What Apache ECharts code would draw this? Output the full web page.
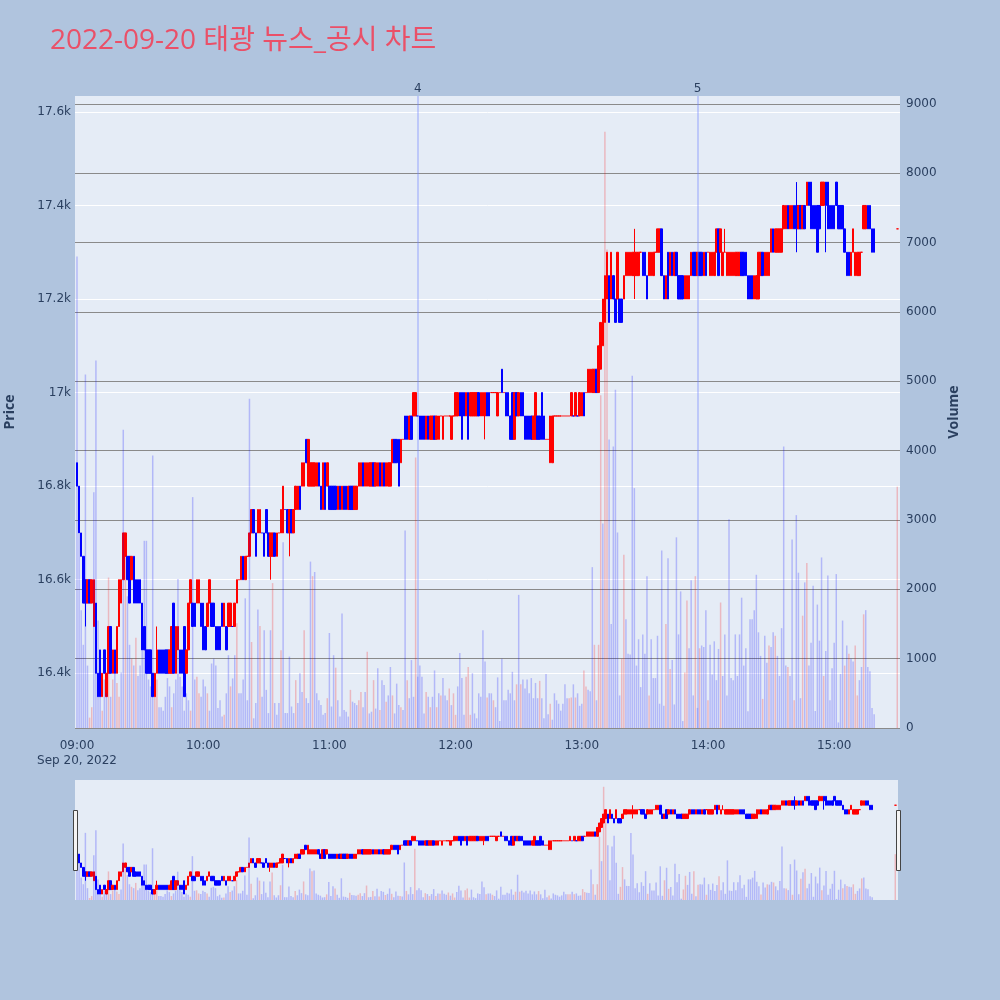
<!DOCTYPE html>
<html>
<head>
<meta charset="utf-8">
<title>태광 뉴스_공시 차트</title>
<script src="https://cdn.jsdelivr.net/npm/echarts@6.0.0/dist/echarts.min.js"></script>
<style>
    html, body { margin: 0; padding: 0; background: #b0c4de; }
    #chart { width: 1000px; height: 1000px; }
</style>
</head>
<body>
<div id="chart"></div>
<script>
const chartTitle = '2022-09-20 태광 뉴스_공시 차트';
const dateLabel = 'Sep 20, 2022';

// one candle per minute from firstBar to lastBar, then the 15:30 closing auction
const firstBar = '09:00';
const lastBar = '15:19';
const closeAuction = '15:30';

const opens = [
    16850,16800,16700,16650,16600,16550,16600,16550,16500,16550,
    16400,16450,16350,16450,16350,16400,16500,16400,16450,16400,
    16500,16550,16600,16650,16650,16650,16600,16650,16600,16600,
    16600,16550,16500,16450,16450,16450,16400,16350,16400,16450,
    16450,16450,16450,16450,16400,16400,16550,16400,16450,16450,
    16450,16500,16400,16450,16550,16550,16550,16550,16550,16550,
    16550,16500,16500,16550,16550,16550,16500,16500,16500,16550,
    16500,16500,16500,16500,16500,16500,16550,16600,16600,16650,
    16600,16650,16650,16700,16750,16700,16700,16700,16700,16700,
    16750,16700,16650,16650,16700,16650,16700,16700,16700,16750,
    16750,16700,16750,16700,16750,16750,16800,16800,16800,16900,
    16800,16800,16800,16800,16800,16850,16800,16750,16850,16800,
    16800,16800,16800,16800,16750,16800,16750,16800,16800,16750,
    16800,16800,16750,16750,16800,16800,16850,16800,16800,16800,
    16800,16850,16800,16800,16850,16800,16850,16800,16800,16800,
    16850,16900,16900,16900,16850,16900,16950,16950,16900,16950,
    16950,16950,16950,16950,16950,16950,16900,16950,16900,16900,
    16950,16900,16900,16950,16900,16950,16950,16950,16900,16950,
    16950,16950,17000,17000,17000,16950,17000,16950,16950,16950,
    16950,17000,16950,16950,16950,17000,17000,17000,17000,17000,
    16950,17000,17050,17000,17000,17000,16950,17000,16900,17000,
    16950,17000,17000,16950,16950,16950,16950,16900,16900,16950,
    16950,17000,16950,16900,16900,16850,16850,16950,16950,16950,
    16950,16950,16950,16950,16950,16950,16950,16950,16950,16950,
    16950,17000,17000,17000,17000,17000,17000,17050,17000,17050,
    17100,17150,17200,17250,17200,17250,17200,17200,17200,17200,
    17200,17250,17250,17250,17250,17250,17250,17250,17300,17300,
    17300,17250,17250,17250,17250,17300,17300,17300,17350,17250,
    17200,17300,17250,17300,17250,17300,17250,17250,17250,17200,
    17200,17200,17250,17300,17300,17250,17300,17300,17250,17300,
    17300,17250,17250,17250,17300,17350,17300,17250,17300,17250,
    17250,17250,17250,17250,17250,17250,17300,17300,17300,17250,
    17250,17250,17200,17200,17200,17250,17300,17250,17250,17250,
    17300,17350,17300,17300,17300,17300,17350,17350,17400,17350,
    17350,17400,17400,17350,17400,17350,17400,17400,17450,17450,
    17400,17400,17400,17400,17400,17400,17450,17450,17400,17400,
    17400,17450,17400,17400,17400,17350,17300,17300,17250,17300,
    17250,17250,17250,17300,17350,17350,17400,17400,17350,17350,
    17350
];
const closes = [
    16800,16700,16650,16550,16550,16600,16550,16600,16600,16400,
    16350,16350,16400,16400,16400,16500,16400,16450,16400,16500,
    16600,16600,16700,16700,16600,16550,16650,16550,16550,16550,
    16550,16450,16450,16400,16400,16400,16350,16400,16450,16400,
    16400,16400,16400,16400,16450,16500,16400,16500,16500,16400,
    16400,16350,16450,16550,16600,16500,16500,16600,16600,16500,
    16450,16450,16550,16600,16500,16500,16450,16450,16450,16500,
    16550,16450,16550,16550,16500,16550,16600,16600,16650,16600,
    16650,16650,16700,16750,16700,16650,16750,16750,16700,16650,
    16700,16650,16700,16700,16650,16700,16700,16750,16800,16750,
    16700,16750,16700,16750,16800,16800,16750,16850,16850,16850,
    16900,16850,16850,16850,16850,16800,16750,16850,16750,16850,
    16750,16750,16750,16750,16800,16750,16800,16750,16750,16800,
    16750,16750,16800,16800,16850,16850,16800,16850,16850,16850,
    16850,16800,16850,16850,16800,16850,16800,16850,16850,16850,
    16900,16850,16850,16800,16900,16900,16900,16900,16950,16900,
    17000,17000,16950,16900,16900,16900,16950,16900,16950,16950,
    16900,16950,16950,16950,16950,16950,16950,16950,16950,16950,
    17000,17000,16950,16900,16950,17000,16900,17000,17000,17000,
    17000,16950,17000,17000,17000,16950,16950,17000,17000,17000,
    17000,17000,17000,17000,16950,16950,16900,16900,17000,16950,
    17000,16950,16950,16900,16900,16900,16900,16950,17000,16900,
    16900,16900,16900,16900,16900,16950,16950,16950,16950,16950,
    16950,16950,16950,16950,16950,17000,16950,17000,16950,17000,
    17000,16950,17000,17050,17050,17050,17050,17000,17100,17150,
    17200,17250,17300,17150,17300,17200,17150,17300,17150,17150,
    17250,17300,17300,17300,17300,17300,17300,17300,17300,17250,
    17250,17200,17300,17300,17300,17300,17350,17350,17250,17200,
    17250,17200,17300,17250,17300,17250,17200,17200,17200,17250,
    17250,17250,17300,17250,17250,17300,17250,17250,17300,17250,
    17300,17300,17300,17300,17350,17250,17350,17300,17300,17300,
    17300,17300,17300,17300,17300,17300,17250,17250,17250,17200,
    17200,17200,17250,17250,17300,17300,17250,17300,17300,17300,
    17350,17300,17350,17350,17350,17350,17400,17400,17350,17400,
    17400,17350,17350,17400,17350,17400,17350,17450,17400,17350,
    17350,17350,17300,17350,17450,17450,17400,17350,17350,17350,
    17350,17400,17350,17350,17350,17300,17250,17250,17300,17350,
    17300,17300,17300,17300,17400,17400,17350,17350,17300,17300,
    17350
];
// [minute index, low, high] where a wick sticks out of the body
const wicks = [
    [4, 16500, 16600], [38, 16400, 16500], [92, 16600, 16700], [101, 16650, 16750],
    [194, 16900, 17000], [265, 17200, 17350], [308, 17300, 17350],
    [342, 17300, 17450], [356, 17300, 17450]
];
const volumes = [
    6800,2800,1700,1200,5100,900,150,300,3400,5300,
    1550,1100,250,700,500,2170,450,700,1100,650,
    450,800,4300,2800,1900,1200,1000,900,1300,750,
    900,1200,2700,2700,700,600,3930,500,700,300,
    300,250,450,720,600,300,500,700,2150,740,
    600,250,500,400,250,3330,700,740,500,450,
    700,600,500,250,930,1000,900,290,400,165,
    190,500,1050,600,715,1050,1510,500,500,700,
    1870,400,4750,1240,140,360,1710,1470,450,1410,
    550,215,1410,2090,360,190,360,1120,2680,215,
    215,1030,310,215,690,360,790,520,1410,430,
    360,2400,2190,2250,500,400,330,190,215,430,
    1370,310,1050,870,400,165,1650,260,235,165,
    550,380,360,330,400,520,300,520,1100,210,
    235,690,280,860,260,690,620,380,470,880,
    470,210,640,330,300,260,2850,690,430,980,
    450,3900,740,900,740,210,520,450,300,450,
    830,300,500,470,720,470,400,570,330,500,
    190,600,1080,720,190,740,880,190,790,210,
    140,500,450,1410,960,440,500,500,400,300,
    730,100,1000,400,400,550,500,810,400,630,
    1920,630,700,570,700,500,720,430,650,430,
    680,430,140,780,200,350,120,500,400,350,
    250,350,630,430,430,440,630,440,500,320,
    350,830,600,550,530,2320,1200,400,1200,4800,
    2950,8600,6900,4160,1500,4060,4880,2820,470,1000,
    2500,1570,1070,1060,5080,3460,900,1280,590,1350,
    1070,2190,470,1280,720,720,1330,350,2560,320,
    1500,2450,850,980,340,2750,1350,1970,100,800,
    1840,1150,2130,470,2190,290,1150,1190,1170,1700,
    400,1200,770,1250,690,1140,1810,750,1350,470,
    3010,720,690,1350,750,1350,1880,900,1150,240,
    1570,1570,1700,2210,1380,1040,420,1330,940,1190,
    1170,1380,1330,1040,750,1440,4060,900,880,750,
    2720,400,3070,2240,430,1620,2100,2380,900,1230,
    2050,245,1780,1260,2460,750,1110,2200,400,860,
    1230,2220,80,780,1550,900,1190,1070,1000,960,
    1190,470,690,880,1640,1700,880,820,290,200,
    3480
];
// minutes whose volume bar is drawn red (all others are blue)
const redVolumeMinutes = [
    6, 7, 12, 15, 17, 19, 20, 23, 26, 28, 37, 38, 45, 54, 57, 58, 62,
    70, 73, 76, 83, 87, 93, 97, 104, 108, 112, 119, 123,
    130, 134, 135, 138, 141, 144, 147, 150, 154, 157, 161, 166, 168, 171, 173,
    177, 179, 180, 185, 186, 187,
    195, 198, 209, 211, 220, 225, 234, 235, 237, 241, 242, 246, 248, 249, 251, 252,
    259, 260, 272, 280, 282, 289, 290, 294, 296, 300, 306,
    326, 329, 332, 338, 341, 345, 347, 355, 365, 367, 370, 371, 374, 390
];

// news / disclosure markers
const newsTimes = ['11:42', '13:55'];
const newsLabels = ['4', '5'];

const hourTicks = ['09:00', '10:00', '11:00', '12:00', '13:00', '14:00', '15:00'];
const priceTicks = [16400, 16600, 16800, 17000, 17200, 17400, 17600];
const volumeTicks = [0, 1000, 2000, 3000, 4000, 5000, 6000, 7000, 8000, 9000];

const priceMin = 16283, priceMax = 17634;
const volumeMax = 9115;
const xMin = -0.95, xMax = 391.3;

const upColor = '#ff0000';
const downColor = '#0000ff';
const fontFamily = '"Open Sans", "Noto Sans CJK KR", sans-serif';
const tickFont = '"DejaVu Sans", sans-serif';
const axisColor = '#2a3f5f';

function toMin(t) {
    const [h, m] = t.split(':').map(Number);
    return (h - 9) * 60 + m;
}

const minutes = [];
for (let m = toMin(firstBar); m <= toMin(lastBar); m++) minutes.push(m);
minutes.push(toMin(closeAuction));

const wickMap = {};
wicks.forEach(w => { wickMap[w[0]] = w; });

const candleData = minutes.map((m, i) => {
    const o = opens[i], c = closes[i];
    const w = wickMap[m];
    const lo = w ? Math.min(o, c, w[1]) : Math.min(o, c);
    const hi = w ? Math.max(o, c, w[2]) : Math.max(o, c);
    return [m, o, c, lo, hi];
});

const volumeData = minutes.map((m, i) => ({
    value: [m, volumes[i]],
    itemStyle: { color: redVolumeMinutes.indexOf(m) >= 0 ? 'rgba(255,0,0,0.22)' : 'rgba(0,0,255,0.22)' }
}));

function candleSeries(xi, yi) {
    return {
        type: 'candlestick',
        xAxisIndex: xi,
        yAxisIndex: yi,
        data: candleData,
        encode: { x: 0, y: [1, 2, 3, 4] },
        barWidth: 2,
        itemStyle: {
            color: upColor, color0: downColor,
            borderColor: upColor, borderColor0: downColor,
            borderWidth: 1
        },
        z: 2
    };
}
function volumeSeries(xi, yi) {
    return {
        type: 'bar',
        xAxisIndex: xi,
        yAxisIndex: yi,
        data: volumeData,
        barWidth: 1.5,
        z: 3
    };
}

const chart = echarts.init(document.getElementById('chart'));

const mainCandles = candleSeries(0, 0);
mainCandles.markLine = {
    silent: true,
    symbol: ['none', 'none'],
    lineStyle: { color: 'rgba(110,130,255,0.45)', width: 1.5, type: 'solid' },
    label: { show: true, position: 'end', formatter: p => p.name, color: axisColor, fontSize: 12, distance: 1, fontFamily: tickFont },
    data: newsTimes.map((t, i) => ({ name: newsLabels[i], xAxis: toMin(t) }))
};

const option = {
    backgroundColor: '#b0c4de',
    animation: false,
    textStyle: { fontFamily: fontFamily },
    title: {
        text: chartTitle,
        left: 45,
        top: 22,
        textStyle: { color: '#ea5068', fontSize: 28, fontWeight: 'normal', fontFamily: fontFamily }
    },
    grid: [
        { left: 75, right: 100, top: 96, height: 632, show: true, backgroundColor: '#e5ecf6', borderWidth: 0, outerBoundsMode: 'none', containLabel: false },
        { left: 75, right: 102, top: 780, height: 120, show: true, backgroundColor: '#e5ecf6', borderWidth: 0, outerBoundsMode: 'none', containLabel: false }
    ],
    xAxis: [
        {
            type: 'value', gridIndex: 0, min: xMin, max: xMax,
            axisLine: { show: false }, axisTick: { show: false }, splitLine: { show: false },
            axisLabel: {
                customValues: hourTicks.map(toMin),
                color: axisColor, fontSize: 12, fontFamily: tickFont, margin: 10, lineHeight: 15,
                formatter: v => {
                    const h = 9 + v / 60;
                    return (h < 10 ? '0' : '') + h + ':00' + (v === 0 ? '\n' + dateLabel : '');
                }
            }
        },
        { type: 'value', gridIndex: 1, min: xMin, max: xMax, show: false, splitLine: { show: false } }
    ],
    yAxis: [
        {
            type: 'value', gridIndex: 0, position: 'left', min: priceMin, max: priceMax,
            name: 'Price', nameLocation: 'middle', nameGap: 58, nameRotate: 90,
            nameTextStyle: { color: axisColor, fontSize: 14, fontWeight: 'bold' },
            axisLine: { show: false }, axisTick: { show: false, customValues: priceTicks },
            axisLabel: { customValues: priceTicks, color: axisColor, fontSize: 12, fontFamily: tickFont, margin: 4, formatter: v => (v / 1000) + 'k' },
            splitLine: { show: true, lineStyle: { color: '#ffffff', width: 1 } }
        },
        {
            type: 'value', gridIndex: 0, position: 'right', min: 0, max: volumeMax,
            name: 'Volume', nameLocation: 'middle', nameGap: 46, nameRotate: 90,
            nameTextStyle: { color: axisColor, fontSize: 14, fontWeight: 'bold' },
            axisLine: { show: false }, axisTick: { show: false, customValues: volumeTicks },
            axisLabel: { customValues: volumeTicks, color: axisColor, fontSize: 12, fontFamily: tickFont, margin: 6, formatter: v => String(v) },
            splitLine: { show: true, lineStyle: { color: '#8a8a8a', width: 1.2 } }
        },
        { type: 'value', gridIndex: 1, min: priceMin, max: priceMax, show: false, splitLine: { show: false } },
        { type: 'value', gridIndex: 1, min: 0, max: volumeMax, show: false, splitLine: { show: false } }
    ],
    series: [
        mainCandles,
        volumeSeries(0, 1),
        candleSeries(1, 2),
        volumeSeries(1, 3)
    ],
    graphic: [
        // range slider handles
        { type: 'rect', left: 73, top: 810, shape: { width: 4, height: 60 }, style: { fill: '#f4f4f4', stroke: '#444', lineWidth: 1 }, z: 10 },
        { type: 'rect', left: 896, top: 810, shape: { width: 4, height: 60 }, style: { fill: '#f4f4f4', stroke: '#444', lineWidth: 1 }, z: 10 }
    ]
};

chart.setOption(option);
</script>
</body>
</html>
